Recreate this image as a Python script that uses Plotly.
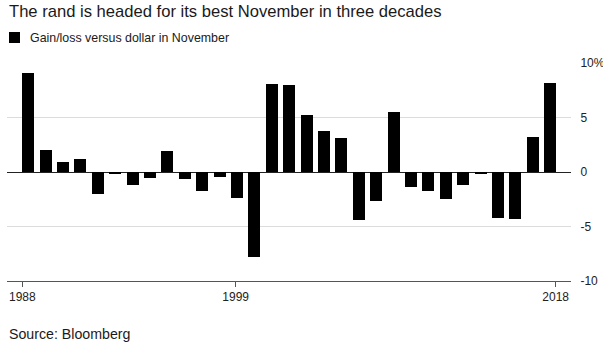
import plotly.graph_objects as go

years = list(range(1988, 2019))
values = [9.1, 2.0, 0.95, 1.15, -2.05, -0.15, -1.2, -0.55, 1.9, -0.65, -1.7, -0.45,
          -2.4, -7.8, 8.05, 7.95, 5.2, 3.75, 3.1, -4.4, -2.7, 5.55, -1.4, -1.75,
          -2.5, -1.2, -0.1, -4.25, -4.3, 3.2, 8.2]
x_ticks = [1987.66, 1999.92, 2018.31]
x_tick_labels = ["1988", "1999", "2018"]
y_ticks = [-10, -5, 0, 5, 10]
y_tick_labels = ["-10", "-5", "0", "5", "10%"]

FONT = "Liberation Sans, Arial, sans-serif"
W, H = 603, 345
L, R, T, B = 7, 32, 63, 64
ph = H - T - B

def py(p):
    return (H - B - p) / ph

fig = go.Figure()
fig.add_trace(go.Bar(x=years, y=values, marker=dict(color="#000000", line=dict(width=0)),
                     width=0.69, showlegend=False))

fig.update_layout(
    width=W, height=H,
    margin=dict(l=L, r=R, t=T, b=B, pad=0),
    paper_bgcolor="white", plot_bgcolor="white",
    font=dict(family=FONT, color="#222222"),
    xaxis=dict(range=[1986.78, 2019.19], tickmode="array", tickvals=x_ticks,
               ticktext=x_tick_labels, ticks="outside", ticklen=5, tickcolor="#555555",
               tickwidth=1, showgrid=False, zeroline=False, showline=True, automargin=False,
               linecolor="#555555", linewidth=1, tickfont=dict(size=12, color="#222222")),
    yaxis=dict(range=[-10, 10], side="right", tickmode="array", tickvals=y_ticks,
               ticktext=y_tick_labels, showgrid=True, gridcolor="#dcdcdc", gridwidth=1,
               zeroline=True, zerolinecolor="#222222", zerolinewidth=1, automargin=False,
               ticks="outside", ticklen=6, tickcolor="rgba(0,0,0,0)",
               tickfont=dict(size=12, color="#222222")),
    bargap=0,
)

fig.add_annotation(text="The rand is headed for its best November in three decades",
                   xref="paper", yref="paper", x=0, y=py(12), xanchor="left", yanchor="middle",
                   showarrow=False, font=dict(size=16.6, color="#1a1a1a", family=FONT))
fig.add_shape(type="rect", xref="paper", yref="paper",
              x0=(9 - L) / (W - L - R), x1=(20 - L) / (W - L - R), y0=py(43), y1=py(32),
              fillcolor="#000000", line=dict(width=0))
fig.add_annotation(text="Gain/loss versus dollar in November",
                   xref="paper", yref="paper", x=(28 - L) / (W - L - R), y=py(38),
                   xanchor="left", yanchor="middle", showarrow=False,
                   font=dict(size=12.4, color="#1a1a1a", family=FONT))
fig.add_annotation(text="Source: Bloomberg", xref="paper", yref="paper", x=0, y=py(334),
                   xanchor="left", yanchor="middle", showarrow=False,
                   font=dict(size=14.2, color="#1a1a1a", family=FONT))

fig.write_html("out.html")
